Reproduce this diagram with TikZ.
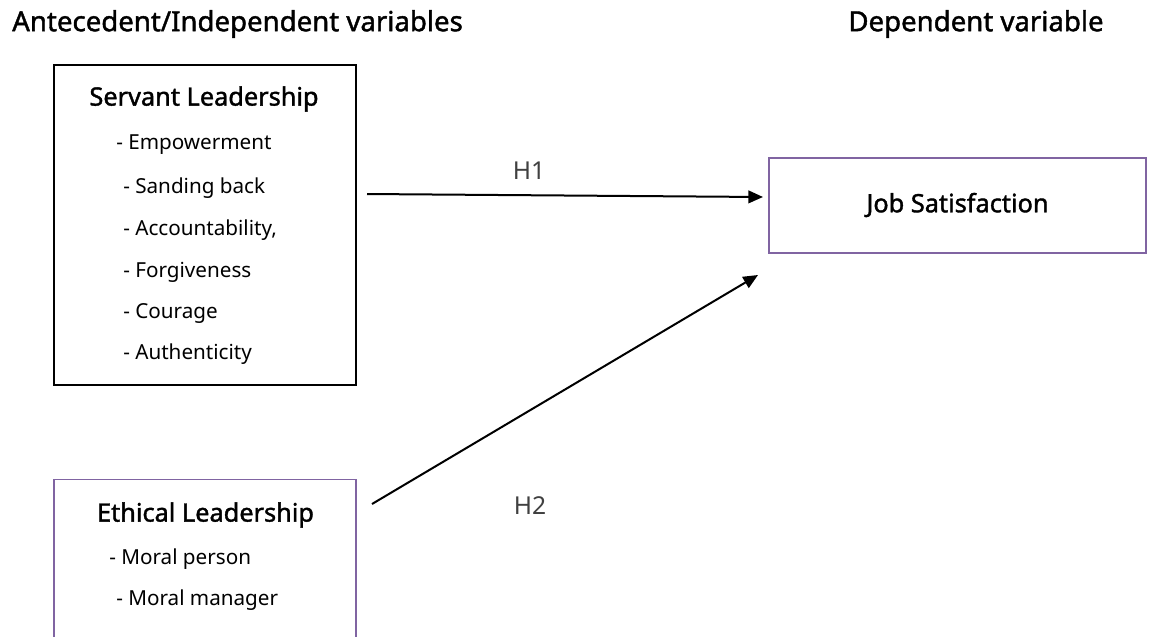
\documentclass[tikz,border=0pt]{standalone}
\usepackage{fontspec}
\setmainfont{Noto Sans}
\newfontfamily\semib[FakeBold=1.5]{Noto Sans}
\usetikzlibrary{arrows.meta}
\definecolor{boxpurple}{HTML}{8064A2}
\definecolor{hgray}{HTML}{404040}
\begin{document}
\begin{tikzpicture}[x=0.75pt,y=-0.75pt,
  head/.style={font=\semib\fontsize{20.7}{22}\selectfont, inner sep=0pt},
  title/.style={font=\semib\fontsize{19}{21}\selectfont, inner sep=0pt},
  item/.style={font=\fontsize{15.5}{17}\selectfont, inner sep=0pt, anchor=west},
  hlab/.style={font=\fontsize{18.5}{20}\selectfont, text=hgray, inner sep=0pt},
  blackbox/.style={draw=black, line width=1.5pt, inner sep=0pt, outer sep=0pt},
  purplebox/.style={draw=boxpurple, line width=1.2pt, inner sep=0pt, outer sep=0pt},
  conn/.style={line width=1.5pt, -{Triangle[length=11pt,width=9.5pt]}}
]
\useasboundingbox (0,0) rectangle (1151,636);

\node[head, anchor=west] (hl) at (12,24) {Antecedent/Independent variables};
\node[head] (hr) at (976,24) {Dependent variable};

\node[blackbox, minimum width=226.5pt, minimum height=240pt] (sl) at (205,225) {};
\node[title] (slt) at (204,99) {Servant Leadership};
\node[item] (s1) at (116,145) {- Empowerment};
\node[item] (s2) at (123,188) {- Sanding back};
\node[item] (s3) at (123,230) {- Accountability,};
\node[item] (s4) at (123,272) {- Forgiveness};
\node[item] (s5) at (123,313) {- Courage};
\node[item] (s6) at (123,354) {- Authenticity};

\node[purplebox, minimum width=226.5pt, minimum height=130pt] (el) at (205,566) {};
\node[title] (elt) at (205.5,515) {Ethical Leadership};
\node[item] (e1) at (109,559) {- Moral person};
\node[item] (e2) at (116,600) {- Moral manager};

\node[purplebox, minimum width=282.75pt, minimum height=71.25pt] (js) at (957.5,205.5) {};
\node[title] (jst) at (957.5,205) {Job Satisfaction};

\coordinate (h1s) at (367,194);
\coordinate (h1e) at (763,197);
\coordinate (h2s) at (372,504);
\coordinate (h2e) at (758,275);
\draw[conn] (h1s) -- (h1e);
\draw[conn] (h2s) -- (h2e);
\node[hlab] (h1) at (529,171) {H1};
\node[hlab] (h2) at (530,506) {H2};
\end{tikzpicture}
\end{document}
